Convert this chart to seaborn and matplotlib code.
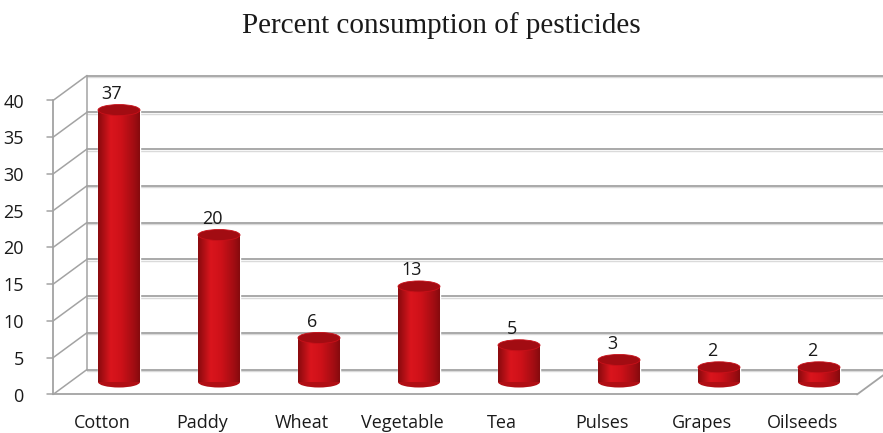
import numpy as np
import matplotlib
matplotlib.use('Agg')
import matplotlib.pyplot as plt
import seaborn as sns
from matplotlib.patches import Ellipse
from matplotlib.transforms import ScaledTranslation
from matplotlib.colors import LinearSegmentedColormap

# data
crops = ['Cotton', 'Paddy', 'Wheat', 'Vegetable', 'Tea', 'Pulses', 'Grapes', 'Oilseeds']
percent = [37, 20, 6, 13, 5, 3, 2, 2]
y_ticks = [0, 5, 10, 15, 20, 25, 30, 35, 40]

sns.set_style('white')
plt.rcParams['font.family'] = ['Open Sans', 'DejaVu Sans']

fig = plt.figure(figsize=(8.83, 4.33), dpi=100)
# axes is the middle depth plane, bars stand in it
ax = fig.add_axes([70 / 883, 51 / 433, 804 / 883, 294 / 433])

sns.barplot(x=crops, y=percent, color='#D01019', width=0.42, saturation=1,
            ax=ax, zorder=3)

x0, x1 = -0.49, 7.55
dx, dy = 0.17, 1.7   # half depth of the fake 3d box
grid_c = '#A3A3A3'

# back wall gridlines + left wall diagonals
shadow = ax.transData + ScaledTranslation(0, -1.5 / 100, fig.dpi_scale_trans)
for v in y_ticks:
    ax.plot([x0 + dx, x1 + dx], [v + dy, v + dy], color='#DADADA', lw=1.0,
            clip_on=False, zorder=1, transform=shadow)
    ax.plot([x0 + dx, x1 + dx], [v + dy, v + dy], color=grid_c, lw=1.3, clip_on=False, zorder=1)
    ax.plot([x0 - dx, x0 + dx], [v - dy, v + dy], color=grid_c, lw=1.1, clip_on=False, zorder=1)
    ax.plot([x0 - dx - 0.06, x0 - dx], [v - dy, v - dy], color=grid_c, lw=1.1, clip_on=False, zorder=1)
ax.plot([x0 + dx, x0 + dx], [dy, 40 + dy], color=grid_c, lw=1.1, clip_on=False, zorder=1)
# front axis and floor
ax.plot([x0 - dx, x0 - dx], [-dy, 40 - dy], color=grid_c, lw=1.3, clip_on=False, zorder=1)
ax.plot([x0 - dx, x1 - dx], [-dy, -dy], color=grid_c, lw=1.3, clip_on=False, zorder=1)
ax.plot([x1 - dx, x1 + dx], [-dy, dy], color=grid_c, lw=1.3, clip_on=False, zorder=1)

# cylinder look
cyl = LinearSegmentedColormap.from_list('cyl', [(0, '#8A0A0E'), (0.3, '#DA151D'),
                                                (0.55, '#CE1119'), (0.85, '#A30D13'),
                                                (1, '#860A0E')])
grad = np.linspace(0, 1, 100).reshape(1, -1)
cap_h = 1.5
for p in list(ax.patches):
    xc = p.get_x() + p.get_width() / 2
    w = p.get_width()
    h = p.get_height()
    bottom = Ellipse((xc, 0), w, cap_h, facecolor='#B00E14', edgecolor='none',
                     zorder=2.9, clip_on=False)
    ax.add_patch(bottom)
    for clip in (p, bottom):
        im = ax.imshow(grad, extent=[p.get_x(), p.get_x() + w, -cap_h, h], cmap=cyl,
                       aspect='auto', zorder=3.5, clip_on=True)
        im.set_clip_path(clip)
    ax.add_patch(Ellipse((xc, h), w, cap_h, facecolor='#A20C12', edgecolor='#C81019',
                         lw=0.6, zorder=5, clip_on=False))
    ax.annotate(f'{h:.0f}', (xc, h), xytext=(-7, 16), textcoords='offset pixels',
                ha='center', va='center', fontsize=13, color='#1A1A1A')

ax.set_xlim(x0, x1)
ax.set_ylim(0, 40)
ax.set_yticks(y_ticks)
ax.set_xlabel('')
ax.set_ylabel('')
ax.tick_params(axis='both', length=0, labelsize=13, labelcolor='#1A1A1A')
ax.tick_params(axis='y', pad=21)
ax.tick_params(axis='x', pad=14)
shift = ScaledTranslation(-0.17, -0.125, fig.dpi_scale_trans)
for lab in ax.get_yticklabels() + ax.get_xticklabels():
    lab.set_transform(lab.get_transform() + shift)
for s in ax.spines.values():
    s.set_visible(False)
ax.set_facecolor('none')

fig.text(0.5, 1 - 26 / 433, 'Percent consumption of pesticides', ha='center', va='center',
         family='Liberation Serif', fontsize=21, color='#1A1A1A')

fig.savefig('out.png', dpi=100)
